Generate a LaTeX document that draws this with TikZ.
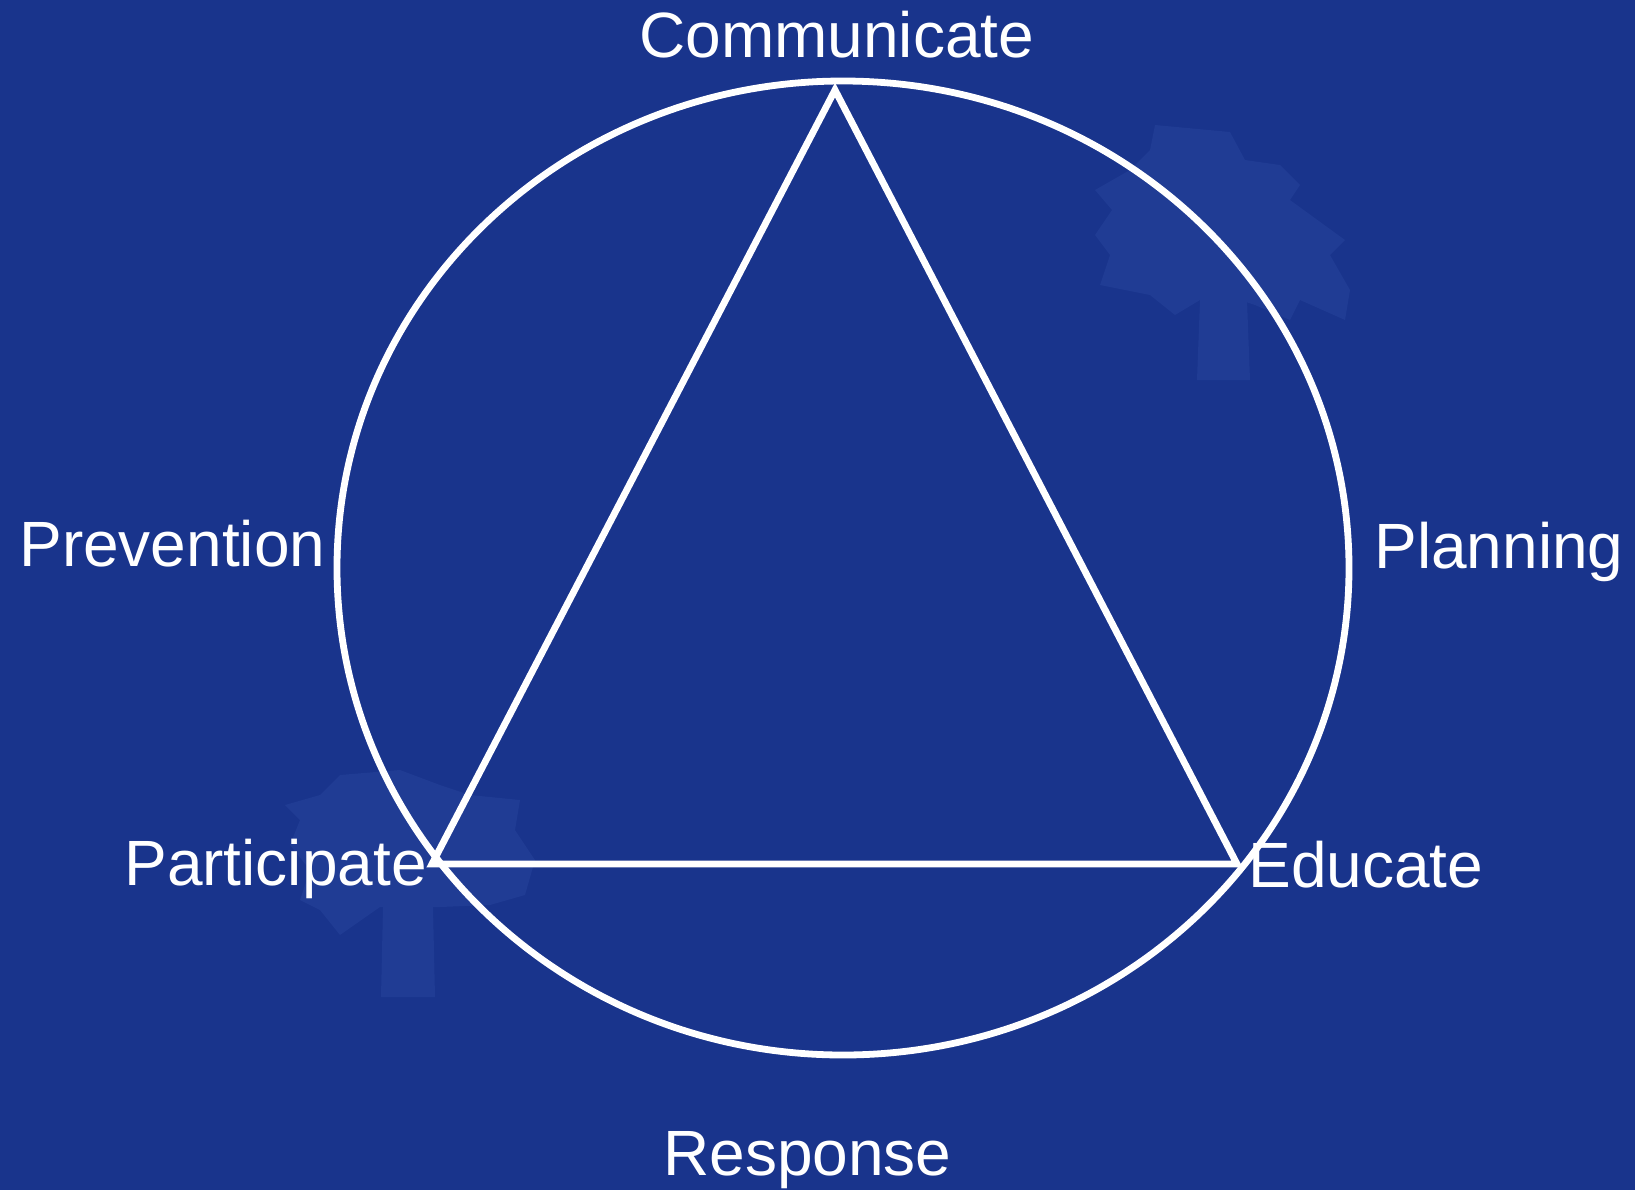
\documentclass[tikz,border=0pt]{standalone}
\usepackage{fontspec}
\setmainfont{Liberation Sans}
\definecolor{bgblue}{RGB}{25,52,140}
\definecolor{palmblue}{RGB}{32,60,148}
\tikzset{
  lbl/.style={text=white, inner sep=0pt, anchor=base west, font=\fontsize{32}{38}\selectfont},
  wline/.style={draw=white, line width=3.4pt},
  palm/.style={fill=palmblue, draw=none}
}
\begin{document}
\begin{tikzpicture}[x=0.5pt,y=-0.5pt]
\fill[bgblue] (0,0) rectangle (1635,1190);
\useasboundingbox (0,0) rectangle (1635,1190);
% faint palm watermarks
\fill[palm] (1200,300) -- (1247,300) -- (1250,380) -- (1197,380) -- cycle;
\fill[palm] (1155,125) -- (1230,132) -- (1245,160) -- (1280,165) -- (1300,185) -- (1290,200)
  -- (1345,240) -- (1330,255) -- (1350,290) -- (1345,320) -- (1300,300) -- (1290,320)
  -- (1255,305) -- (1240,300) -- (1200,300) -- (1175,315) -- (1150,295) -- (1100,285)
  -- (1110,255) -- (1095,235) -- (1112,210) -- (1095,190) -- (1130,170) -- (1150,150) -- cycle;
\fill[palm] (383,907) -- (433,907) -- (435,997) -- (381,997) -- cycle;
\fill[palm] (340,775) -- (400,770) -- (440,785) -- (470,795) -- (520,800) -- (515,830)
  -- (535,860) -- (525,895) -- (490,905) -- (440,907) -- (380,907) -- (340,935)
  -- (320,910) -- (300,900) -- (310,870) -- (290,845) -- (300,820) -- (285,805) -- (320,795) -- cycle;
% ellipse
\coordinate (c) at (843,568);
\draw[wline] (c) ellipse [x radius=253pt, y radius=243.5pt];
% triangle
\coordinate (top) at (835,90);
\coordinate (left) at (432,864);
\coordinate (right) at (1237,864);
\draw[wline, line join=miter] (top) -- (right) -- (left) -- cycle;
% labels
\node[lbl] (communicate) at (639,57) {Communicate};
\node[lbl] (prevention) at (19,566) {Prevention};
\node[lbl] (planning) at (1374,568) {Planning};
\node[lbl] (participate) at (124,885) {Participate};
\node[lbl] (educate) at (1248,887) {Educate};
\node[lbl] (response) at (663,1175) {Response};
\end{tikzpicture}
\end{document}
